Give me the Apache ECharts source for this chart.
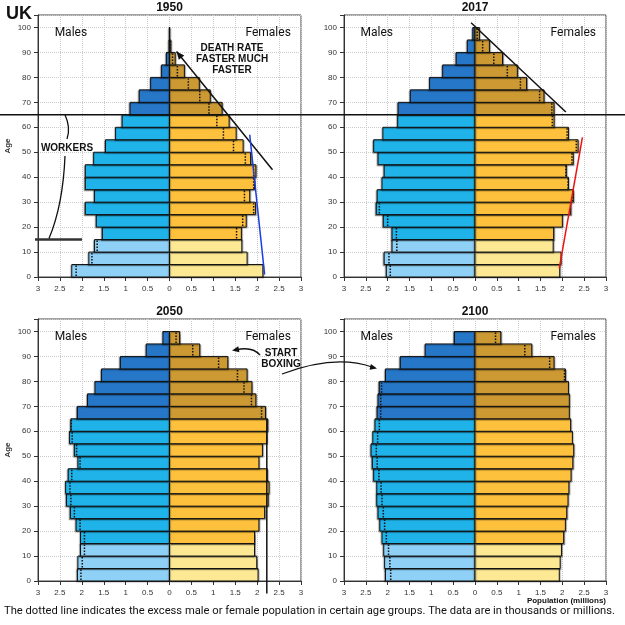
<!DOCTYPE html>
<html>
<head>
<meta charset="utf-8">
<script src="https://cdn.jsdelivr.net/npm/echarts@6/dist/echarts.min.js"></script>
<style>
html,body{margin:0;padding:0;background:#fff;}
#chart1{width:625px;height:625px;}
</style>
</head>
<body>
<div id="chart1"></div>
<script>
// age groups: start of each 5-year band
var ages = [0,5,10,15,20,25,30,35,40,45,50,55,60,65,70,75,80,85,90,95];
var years = ['1950','2017','2050','2100'];

// population in millions
var male1950   = [2.23,1.84,1.71,1.53,1.67,1.92,1.71,1.92,1.92,1.73,1.46,1.23,1.08,0.90,0.69,0.43,0.18,0.07,0.012,0.004];
var female1950 = [2.13,1.77,1.65,1.64,1.75,1.96,1.83,1.94,1.97,1.85,1.68,1.52,1.36,1.20,0.93,0.68,0.34,0.13,0.03,0.006];
var male2017   = [2.03,2.08,1.90,1.90,2.10,2.26,2.24,2.13,2.08,2.22,2.32,2.11,1.77,1.76,1.48,1.04,0.74,0.43,0.175,0.05];
var female2017 = [1.94,1.97,1.79,1.80,2.00,2.19,2.25,2.14,2.09,2.25,2.36,2.14,1.81,1.81,1.58,1.18,0.97,0.63,0.33,0.10];
var male2050   = [2.10,2.09,2.03,2.03,2.13,2.26,2.35,2.37,2.31,2.09,2.17,2.28,2.25,2.10,1.87,1.70,1.55,1.12,0.53,0.15];
var female2050 = [2.02,1.99,1.94,1.94,2.04,2.17,2.25,2.27,2.23,2.04,2.12,2.22,2.24,2.19,1.97,1.88,1.77,1.33,0.69,0.23];
var male2100   = [2.05,2.07,2.09,2.13,2.18,2.22,2.25,2.25,2.32,2.35,2.38,2.34,2.29,2.24,2.22,2.19,2.05,1.71,1.14,0.47];
var female2100 = [1.93,1.95,1.98,2.03,2.07,2.10,2.13,2.15,2.20,2.24,2.26,2.23,2.19,2.16,2.16,2.14,2.07,1.81,1.30,0.59];

var males = [male1950, male2017, male2050, male2100];
var females = [female1950, female2017, female2050, female2100];

var maleColors = ['#8fd0f6','#1fb3ea','#2677c8'];
var femaleColors = ['#fde994','#fdc13d','#cc9933'];

var grids = [
	{left: 38, top: 15, width: 263, height: 262},
	{left: 344, top: 15, width: 262, height: 262},
	{left: 38, top: 319, width: 263, height: 262},
	{left: 344, top: 319, width: 262, height: 262}
];

function barItem(colors) {
	return function (params, api) {
		var age = api.value(0), v = api.value(1), other = api.value(2);
		var a = api.coord([0, age]);
		var b = api.coord([v, age + 5]);
		var i = params.dataIndex;
		var fill = i < 3 ? colors[0] : (i < 13 ? colors[1] : colors[2]);
		var children = [{
			type: 'rect',
			shape: {x: Math.min(a[0], b[0]), y: b[1], width: Math.abs(b[0] - a[0]), height: a[1] - b[1]},
			style: {fill: fill, stroke: '#111', lineWidth: 1,
				shadowBlur: 1, shadowColor: 'rgba(0,0,0,0.3)', shadowOffsetX: v < 0 ? -1 : 1, shadowOffsetY: 1}
		}];
		if (Math.abs(other) < Math.abs(v) - 0.005) {
			var c = api.coord([other, age]);
			var d = api.coord([other, age + 5]);
			children.push({
				type: 'line',
				shape: {x1: c[0], y1: c[1] - 1, x2: d[0], y2: d[1] + 1},
				style: {stroke: '#111', lineWidth: 1.5, lineDash: [1.5, 1.5]}
			});
		}
		return {type: 'group', children: children};
	};
}

var xAxes = [], yAxes = [], series = [];
for (var g = 0; g < 4; g++) {
	xAxes.push({
		gridIndex: g, type: 'value', min: -3, max: 3, interval: 0.5,
		axisLine: {show: true, onZero: false, lineStyle: {color: '#333'}},
		axisTick: {show: true, length: 4, lineStyle: {color: '#333'}},
		axisLabel: {fontSize: 8, color: '#333', margin: 8, fontFamily: 'Liberation Sans',
			formatter: function (v) { return Math.abs(v); }},
		splitLine: {show: true, lineStyle: {color: '#ccc', type: 'dotted'}}
	});
	yAxes.push({
		gridIndex: g, type: 'value', min: 0, max: 105, interval: 10,
		axisLine: {show: true, onZero: false, lineStyle: {color: '#333'}},
		axisTick: {show: true, length: 4, lineStyle: {color: '#333'}},
		axisLabel: {fontSize: 8, color: '#333', margin: 7, fontFamily: 'Liberation Sans',
			formatter: function (v) { return v > 100 ? '' : v; }},
		splitLine: {show: true, lineStyle: {color: '#ccc', type: 'dotted'}},
		name: g % 2 === 0 ? 'Age' : '',
		nameLocation: 'middle', nameGap: 26,
		nameTextStyle: {fontSize: 8, fontWeight: 'bold', color: '#333', fontFamily: 'Liberation Sans'}
	});
	var mData = [], fData = [];
	for (var k = 0; k < ages.length; k++) {
		mData.push([ages[k], -males[g][k], -females[g][k]]);
		fData.push([ages[k], females[g][k], males[g][k]]);
	}
	series.push({
		type: 'custom', name: 'Males ' + years[g], xAxisIndex: g, yAxisIndex: g,
		renderItem: barItem(maleColors), encode: {x: 1, y: 0}, data: mData, clip: false, silent: true
	});
	series.push({
		type: 'custom', name: 'Females ' + years[g], xAxisIndex: g, yAxisIndex: g,
		renderItem: barItem(femaleColors), encode: {x: 1, y: 0}, data: fData, clip: false, silent: true
	});
}

var option = {
	animation: false,
	backgroundColor: '#fff',
	grid: grids.map(function (gr) {
		return {left: gr.left, top: gr.top, width: gr.width, height: gr.height,
			show: true, borderColor: '#444', borderWidth: 1, backgroundColor: 'transparent',
			outerBoundsMode: 'none'};
	}),
	xAxis: xAxes,
	yAxis: yAxes,
	series: series
};

var chart1 = echarts.init(document.getElementById('chart1'));
chart1.setOption(option);

// annotations, placed in data coordinates where they live inside a panel
function px(g, x, y) { return chart1.convertToPixel({gridIndex: g}, [x, y]); }

function arrowHead(tip, from, len, half) {
	var dx = tip[0] - from[0], dy = tip[1] - from[1];
	var l = Math.sqrt(dx * dx + dy * dy);
	var ux = dx / l, uy = dy / l;
	var bx = tip[0] - ux * len, by = tip[1] - uy * len;
	return {type: 'polygon', shape: {points: [tip, [bx - uy * half, by + ux * half], [bx + uy * half, by - ux * half]]},
		style: {fill: '#111'}, z: 100};
}
function seg(p1, p2, color, w) {
	return {type: 'line', shape: {x1: p1[0], y1: p1[1], x2: p2[0], y2: p2[1]},
		style: {stroke: color, lineWidth: w}, z: 100};
}
function curve(p1, cp, p2, w) {
	return {type: 'bezierCurve', shape: {x1: p1[0], y1: p1[1], cpx1: cp[0], cpy1: cp[1], x2: p2[0], y2: p2[1]},
		style: {stroke: '#111', lineWidth: w, fill: null}, z: 100};
}
function label(x, y, text, size, weight, align, family) {
	return {type: 'text', x: x, y: y, z: 110,
		style: {text: text, fontSize: size, fontWeight: weight || 'normal', fill: '#111',
			textAlign: align || 'center', textVerticalAlign: 'middle', fontFamily: family || 'Liberation Sans'}};
}

var gfx = [];
gfx.push(label(6, 14, 'UK', 18, 'bold', 'left'));
for (var g = 0; g < 4; g++) {
	var gr = grids[g];
	gfx.push(label(gr.left + gr.width / 2, gr.top - 7, years[g], 12, 'bold'));
	var pm = px(g, -2.25, 97.7), pf = px(g, 2.25, 97.7);
	gfx.push(label(pm[0], pm[1], 'Males', 12, 'normal', 'center', 'Roboto'));
	gfx.push(label(pf[0], pf[1], 'Females', 12, 'normal', 'center', 'Roboto'));
}

// age 65 line across the top row
var y65 = px(0, 0, 65)[1];
gfx.push(seg([0, y65], [625, y65], '#111', 1.5));

// 1950: death rate arrow and blue trend
var dA = px(0, 2.35, 43), dB = px(0, 0.16, 90.4);
gfx.push(seg(dA, dB, '#111', 1.5));
gfx.push(arrowHead(dB, dA, 8, 3.5));
gfx.push(seg(px(0, 2.17, 1), px(0, 1.83, 57), '#1a3ddf', 1.5));
gfx.push(label(232, 48, 'DEATH RATE', 10, 'bold'));
gfx.push(label(232, 59, 'FASTER MUCH', 10, 'bold'));
gfx.push(label(232, 70, 'FASTER', 10, 'bold'));

// 1950: workers bracket
var y15 = px(0, 0, 15)[1];
gfx.push(seg([35, y15], [82, y15], '#333', 2.5));
gfx.push(curve([65, y65], [71, 128], [67, 139], 1.3));
gfx.push(curve([65, 156], [63, 205], [49, y15 - 1], 1.3));
gfx.push(label(67, 148, 'WORKERS', 10, 'bold'));

// 2017: black and red lines
gfx.push(seg(px(1, -0.09, 101.9), px(1, 2.08, 66.1), '#111', 1.5));
gfx.push(seg(px(1, 1.93, 3.5), px(1, 2.46, 56), '#ee1111', 1.5));

// 2050: vertical line and start boxing arrows
gfx.push(seg(px(2, 2.22, 65), px(2, 2.22, -5), '#111', 1.5));
gfx.push(label(281, 353, 'START', 10, 'bold'));
gfx.push(label(281, 364, 'BOXING', 10, 'bold'));
gfx.push(curve([260, 355], [252, 346], [236, 350], 1.3));
gfx.push(arrowHead([232, 350.5], [240, 349], 7, 3));
gfx.push(curve([282, 374], [335, 354], [372, 367], 1.3));
gfx.push(arrowHead([377, 368.5], [369, 366.5], 7, 3));

gfx.push(label(606, 601, 'Population (millions)', 8, 'bold', 'right'));
gfx.push(label(4, 611, 'The dotted line indicates the excess male or female population in certain age groups. The data are in thousands or millions.', 11.2, 'normal', 'left', 'Roboto'));

chart1.setOption({graphic: gfx});
</script>
</body>
</html>
